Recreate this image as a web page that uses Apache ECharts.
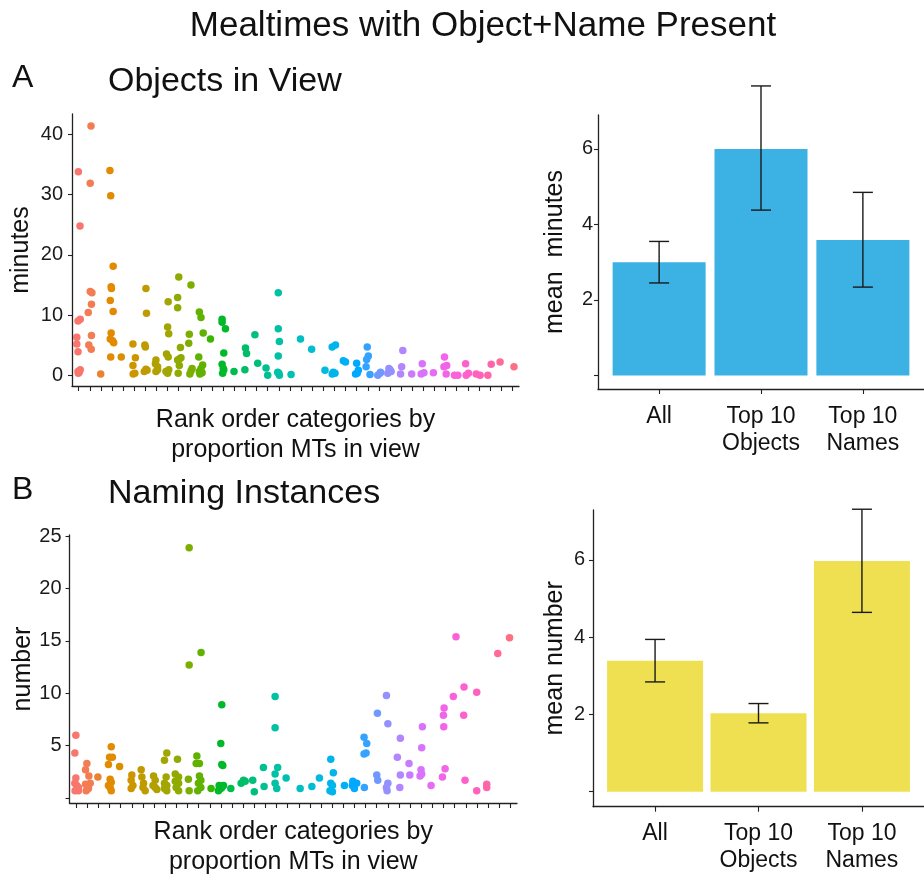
<!DOCTYPE html>
<html>
<head>
<meta charset="utf-8">
<script src="https://cdn.jsdelivr.net/npm/echarts@6/dist/echarts.min.js"></script>
<style>
html,body{margin:0;padding:0;background:#fff;}
#chart{width:924px;height:878px;}
</style>
</head>
<body>
<div id="chart"></div>
<script>
// ---------- DATA ----------
const mainTitle = 'Mealtimes with Object+Name Present';
const panelATitle = 'Objects in View';
const panelBTitle = 'Naming Instances';
const scatterXName = 'Rank order categories by\nproportion MTs in view';
const nCategories = 40;
const barCategories = ['All', 'Top 10\nObjects', 'Top 10\nNames'];

// Panel A scatter: [jittered rank position, minutes]
const objectsInView = [
  [0.97,33.8],[1.12,24.8],[0.94,9.0],[1.14,9.3],[0.83,6.3],[0.83,5.2],[0.94,3.9],[0.94,0.6],[1.14,0.9],[0.97,0.3],[1.05,0.5],
  [2.11,41.4],[2.04,31.9],[2.04,13.9],[2.19,13.7],[2.15,11.8],[1.86,10.4],[2.15,6.6],[1.91,5.0],[2.13,4.3],
  [2.98,0.2],
  [3.81,34.0],[3.88,29.8],[4.1,18.1],[3.92,14.7],[3.95,14.4],[3.84,12.4],[4.1,10.6],[3.92,7.0],[3.84,6.0],[4.05,5.7],[4.15,5.4],[3.88,3.0],
  [4.83,3.0],
  [5.88,5.2],[5.88,1.6],[6.1,2.9],[5.9,0.2],[6.05,0.3],
  [7.05,14.4],[7.1,10.3],[6.95,5.0],[7.0,4.7],[7.05,1.0],[6.9,0.6],[7.15,0.8],
  [7.95,2.5],[7.9,1.9],[8.1,1.4],[7.95,0.6],[8.1,0.9],
  [9.05,12.2],[9.0,8.0],[9.1,6.9],[8.9,3.5],[9.05,3.0],[8.85,0.6],[9.0,0.3],[9.1,0.9],
  [10.0,16.3],[9.9,12.9],[9.9,11.2],[10.15,4.6],[10.05,2.7],[9.9,2.5],[10.2,2.9],[10.05,1.6],[9.95,0.3],
  [11.1,15.0],[10.95,6.8],[10.9,5.3],[11.2,1.1],[11.1,0.7],[11.0,0.2],
  [11.85,10.5],[12.0,9.6],[12.2,7.0],[11.8,3.0],[12.15,1.7],[12.0,1.1],[11.85,0.6],[12.1,0.4],[11.9,0.2],
  [12.85,6.0],
  [13.9,9.3],[13.9,8.8],[14.2,7.7],[14.05,3.7],[13.9,1.8],[14.0,1.1],[14.05,0.9],[13.95,0.3],
  [14.97,0.6],
  [16.0,4.5],[16.1,3.6],[15.95,0.9],
  [16.85,6.7],[17.1,2.0],
  [17.85,1.2],[18.0,0.0],
  [18.95,13.7],[18.95,7.7],[19.05,5.6],[18.95,3.2],[18.9,0.5],[19.05,0.0],[19.0,0.3],
  [20.1,0.1],
  [20.95,6.0],
  [21.95,4.3],
  [23.15,0.8],
  [23.8,4.7],[24.1,5.0],[23.9,0.5],[24.05,0.3],[23.8,0.2],
  [24.8,2.4],[25.0,2.2],
  [26.0,2.0],[26.15,0.8],[25.9,0.2],[26.05,0.3],
  [26.95,4.7],[27.05,3.2],[26.9,2.6],[26.85,1.4],[27.2,0.1],
  [27.9,0.0],[28.1,0.3],[28.15,0.5],
  [28.8,0.3],[29.0,0.9],[29.1,0.6],[28.9,1.1],
  [30.15,4.1],[30.05,1.4],[29.95,0.2],
  [30.95,0.2],
  [31.9,1.9],[31.8,0.2],[32.05,0.4],
  [32.9,0.4],
  [33.9,3.0],[33.85,1.4],[34.1,1.6],[34.05,0.2],
  [34.8,0.0],[35.1,0.0],
  [35.8,1.9],[35.85,0.0],[36.05,0.3],
  [36.75,0.2],[37.1,0.0],
  [37.8,0.0],[38.1,1.8],
  [38.9,2.2],
  [40.15,1.4]
];

// Panel B scatter: [jittered rank position, number of naming instances]
const namingInstances = [
  [0.97,6.0],[0.88,4.3],[0.97,1.9],[0.88,1.4],[1.05,1.2],[1.2,1.0],[0.9,0.7],[1.2,0.7],
  [1.96,3.3],[1.84,2.7],[2.14,2.1],[1.84,1.3],[2.0,1.2],[2.26,1.4],[1.9,0.7],[2.1,0.9],
  [2.95,2.0],
  [4.15,4.9],[4.0,3.9],[4.25,3.9],[3.9,3.2],[4.05,1.8],[4.15,1.5],[3.9,1.2],[4.05,1.0],[4.15,0.7],
  [4.9,3.0],
  [6.0,2.2],[5.94,1.7],[6.1,1.2],[5.94,0.9],
  [6.84,2.7],[6.9,2.0],[7.05,1.4],[7.0,1.0],[7.2,0.7],
  [7.95,2.1],[8.1,1.7],[7.9,1.2],[8.1,1.0],[8.25,0.8],
  [9.14,4.3],[8.93,3.6],[9.08,2.0],[8.93,1.4],[9.14,1.2],[8.93,0.9],[9.14,0.7],
  [10.1,3.7],[9.9,2.3],[10.2,2.0],[9.9,1.6],[10.2,1.4],[9.98,1.0],[10.2,0.7],
  [11.15,23.9],[11.15,12.7],[11.08,1.8],[11.15,0.7],
  [12.22,13.9],[11.84,4.0],[11.78,3.3],[12.07,3.3],[12.07,2.1],[12.2,1.7],[11.98,1.4],[12.2,1.0],[11.92,0.7],
  [13.12,0.9],
  [14.08,8.9],[13.99,5.2],[14.08,3.2],[14.17,3.1],[13.84,1.2],[14.08,1.0],[14.23,1.2],[13.78,0.7],[13.99,0.9],
  [14.89,0.9],
  [15.82,1.4],[16.03,1.7],[16.18,1.6],
  [16.86,1.7],[17.0,0.6],
  [17.82,2.9],[17.88,1.1],
  [18.87,9.7],[18.87,6.7],[19.1,2.9],[18.87,2.3],[18.87,1.4],[19.02,0.9],
  [19.86,1.9],
  [21.12,0.9],
  [22.17,1.1],
  [22.85,1.9],
  [23.87,3.7],[24.1,2.4],[23.87,1.4],[24.02,1.2],[23.8,0.7],[24.02,0.6],
  [25.1,1.2],
  [25.85,1.6],[26.05,1.4],[26.2,1.4],[25.99,0.9],[25.81,1.2],
  [26.86,5.8],[27.1,5.2],[26.86,4.2],[27.04,4.3],[26.89,1.0],
  [28.06,8.1],[28.0,2.2],[28.09,1.7],
  [28.87,9.8],[29.0,7.1],[29.0,1.4],[28.87,1.0],[28.93,0.7],
  [30.12,5.7],[29.85,3.9],[30.12,2.2],[30.07,1.0],
  [30.9,3.3],[30.97,2.2],
  [32.1,6.8],[32.04,4.8],[31.98,2.7],[31.89,2.1],[32.04,2.3],
  [32.88,1.2],
  [34.05,8.6],[33.99,7.9],[34.02,6.8],[34.14,2.8],[33.9,2.0],
  [35.12,15.4],[34.88,9.7],
  [35.84,10.6],[35.81,7.9],[35.93,1.7],
  [36.98,10.1],[36.98,0.7],
  [37.88,1.3],[37.88,1.0],
  [38.87,13.8],
  [39.93,15.3]
];

// Panel A bars: mean minutes with error-bar bounds
const meanMinutes = [3.0, 6.0, 3.59];
const meanMinutesLow = [2.45, 4.38, 2.34];
const meanMinutesHigh = [3.55, 7.67, 4.85];

// Panel B bars: mean number with error-bar bounds
const meanNumber = [3.39, 2.03, 5.97];
const meanNumberLow = [2.84, 1.78, 4.64];
const meanNumberHigh = [3.94, 2.28, 7.31];

// Tick labels
const scatterATicks = [0, 10, 20, 30, 40];
const scatterBTicks = [0, 5, 10, 15, 20, 25];
const scatterBLabels = [5, 10, 15, 20, 25];
const barTicks = [0, 2, 4, 6];
const barLabels = [2, 4, 6];

// ---------- STYLE HELPERS ----------
function hcl(h, c, l) {
  const hr = h * Math.PI / 180;
  const U = c * Math.cos(hr), V = c * Math.sin(hr);
  const Xn = 95.047, Yn = 100, Zn = 108.883;
  const den = Xn + 15 * Yn + 3 * Zn;
  const un = 4 * Xn / den, vn = 9 * Yn / den;
  const Y = l > 8 ? Yn * Math.pow((l + 16) / 116, 3) : Yn * l / 903.3;
  const up = U / (13 * l) + un, vp = V / (13 * l) + vn;
  const X = Y * 9 * up / (4 * vp);
  const Z = Y * (12 - 3 * up - 20 * vp) / (4 * vp);
  const x = X / 100, y = Y / 100, z = Z / 100;
  const lin = [
    3.2404542 * x - 1.5371385 * y - 0.4985314 * z,
    -0.9692660 * x + 1.8760108 * y + 0.0415560 * z,
    0.0556434 * x - 0.2040259 * y + 1.0572252 * z
  ];
  return '#' + lin.map(v => {
    v = v <= 0.0031308 ? 12.92 * v : 1.055 * Math.pow(v, 1 / 2.4) - 0.055;
    v = Math.max(0, Math.min(1, v));
    return Math.round(v * 255).toString(16).padStart(2, '0');
  }).join('');
}
const palette = [];
for (let i = 0; i < nCategories; i++) palette.push(hcl(15 + 360 * i / nCategories, 100, 65));
function catColor(p) { const i = Math.min(nCategories, Math.max(1, Math.round(p.value[0]))); return palette[i - 1]; }

const FONT = "'Liberation Sans', Arial, Helvetica, sans-serif";
const AXIS_COLOR = '#222';
const rankTicks = [];
for (let i = 1; i <= nCategories; i++) rankTicks.push(i);

function barRows(means) { return means.map((m, i) => [i + 1, m]); }
function errRows(lo, hi) { return lo.map((l, i) => [i + 1, l, hi[i]]); }

function errRender(params, api) {
  const x = api.value(0);
  const pLo = api.coord([x, api.value(1)]);
  const pHi = api.coord([x, api.value(2)]);
  const half = 10;
  const st = { stroke: '#1a1a1a', lineWidth: 1.4 };
  return {
    type: 'group',
    children: [
      { type: 'line', shape: { x1: pLo[0], y1: pLo[1], x2: pHi[0], y2: pHi[1] }, style: st },
      { type: 'line', shape: { x1: pLo[0] - half, y1: pLo[1], x2: pLo[0] + half, y2: pLo[1] }, style: st },
      { type: 'line', shape: { x1: pHi[0] - half, y1: pHi[1], x2: pHi[0] + half, y2: pHi[1] }, style: st }
    ]
  };
}

function scatterX(gridIndex, gap) {
  return {
    type: 'value', gridIndex, min: 0.4, max: nCategories + 0.6,
    splitLine: { show: false },
    axisLine: { show: true, onZero: false, lineStyle: { color: AXIS_COLOR, width: 1.3 } },
    axisTick: { show: true, length: 5, customValues: rankTicks, lineStyle: { color: AXIS_COLOR, width: 1.1 } },
    axisLabel: { show: false },
    name: scatterXName, nameLocation: 'middle', nameGap: gap,
    nameTextStyle: { fontFamily: FONT, fontSize: 25, color: '#111', lineHeight: 30, verticalAlign: 'top' }
  };
}
function barX(gridIndex, margin) {
  return {
    type: 'value', gridIndex, min: 0.4, max: 3.6,
    splitLine: { show: false },
    axisLine: { show: true, onZero: false, lineStyle: { color: AXIS_COLOR, width: 1.3 } },
    axisTick: { show: true, length: 5, customValues: [1, 2, 3], lineStyle: { color: AXIS_COLOR, width: 1.1 } },
    axisLabel: {
      customValues: [1, 2, 3], margin,
      formatter: v => barCategories[Math.round(v) - 1] || '',
      fontFamily: FONT, fontSize: 23, lineHeight: 27, color: '#111'
    }
  };
}
function yAx(gridIndex, min, max, ticks, labels, name, gap, margin) {
  return {
    type: 'value', gridIndex, min, max,
    splitLine: { show: false },
    axisLine: { show: true, onZero: false, lineStyle: { color: AXIS_COLOR, width: 1.3 } },
    axisTick: { show: true, length: 4, customValues: ticks, lineStyle: { color: AXIS_COLOR, width: 1.1 } },
    axisLabel: { customValues: labels, margin, fontFamily: FONT, fontSize: 20, color: '#1a1a1a' },
    name, nameLocation: 'middle', nameGap: gap,
    nameTextStyle: { fontFamily: FONT, fontSize: 25, color: '#111' }
  };
}

const chart = echarts.init(document.getElementById('chart'), null, { renderer: 'canvas' });
chart.setOption({
  animation: false,
  backgroundColor: '#fff',
  grid: [
    { left: 72, top: 114, width: 447, height: 272 },
    { left: 598, top: 115, width: 331, height: 274 },
    { left: 69.5, top: 535, width: 447.5, height: 269.3 },
    { left: 593, top: 510, width: 342, height: 296.7 }
  ],
  xAxis: [scatterX(0, 19), barX(1, 14), scatterX(2, 14), barX(3, 13)],
  yAxis: [
    yAx(0, -1.8, 43.4, scatterATicks, scatterATicks, 'minutes', 38, 9),
    yAx(1, -0.36, 6.9, barTicks, barLabels, 'mean  minutes', 30, 5),
    yAx(2, -0.48, 25.12, scatterBTicks, scatterBLabels, 'number', 32, 8),
    yAx(3, -0.39, 7.29, barTicks, barLabels, 'mean number', 25, 8)
  ],
  series: [
    { type: 'scatter', xAxisIndex: 0, yAxisIndex: 0, data: objectsInView, symbolSize: 7.5,
      itemStyle: { color: catColor, opacity: 1 } },
    { type: 'bar', xAxisIndex: 1, yAxisIndex: 1, data: barRows(meanMinutes), barWidth: 93,
      itemStyle: { color: '#3CB1E3' } },
    { type: 'custom', xAxisIndex: 1, yAxisIndex: 1, data: errRows(meanMinutesLow, meanMinutesHigh),
      renderItem: errRender, clip: false, z: 5 },
    { type: 'scatter', xAxisIndex: 2, yAxisIndex: 2, data: namingInstances, symbolSize: 7.5,
      itemStyle: { color: catColor, opacity: 1 } },
    { type: 'bar', xAxisIndex: 3, yAxisIndex: 3, data: barRows(meanNumber), barWidth: 96,
      itemStyle: { color: '#EFE052' } },
    { type: 'custom', xAxisIndex: 3, yAxisIndex: 3, data: errRows(meanNumberLow, meanNumberHigh),
      renderItem: errRender, clip: false, z: 5 }
  ],
  graphic: [
    { type: 'text', x: 483, y: 26, style: { text: mainTitle, font: '35px ' + FONT, fill: '#111', textAlign: 'center', textVerticalAlign: 'middle' } },
    { type: 'text', x: 12, y: 78, style: { text: 'A', font: '32px ' + FONT, fill: '#111', textAlign: 'left', textVerticalAlign: 'middle' } },
    { type: 'text', x: 108, y: 82, style: { text: panelATitle, font: '34px ' + FONT, fill: '#111', textAlign: 'left', textVerticalAlign: 'middle' } },
    { type: 'text', x: 12, y: 490, style: { text: 'B', font: '32px ' + FONT, fill: '#111', textAlign: 'left', textVerticalAlign: 'middle' } },
    { type: 'text', x: 108, y: 494, style: { text: panelBTitle, font: '34px ' + FONT, fill: '#111', textAlign: 'left', textVerticalAlign: 'middle' } }
  ]
});
</script>
</body>
</html>
